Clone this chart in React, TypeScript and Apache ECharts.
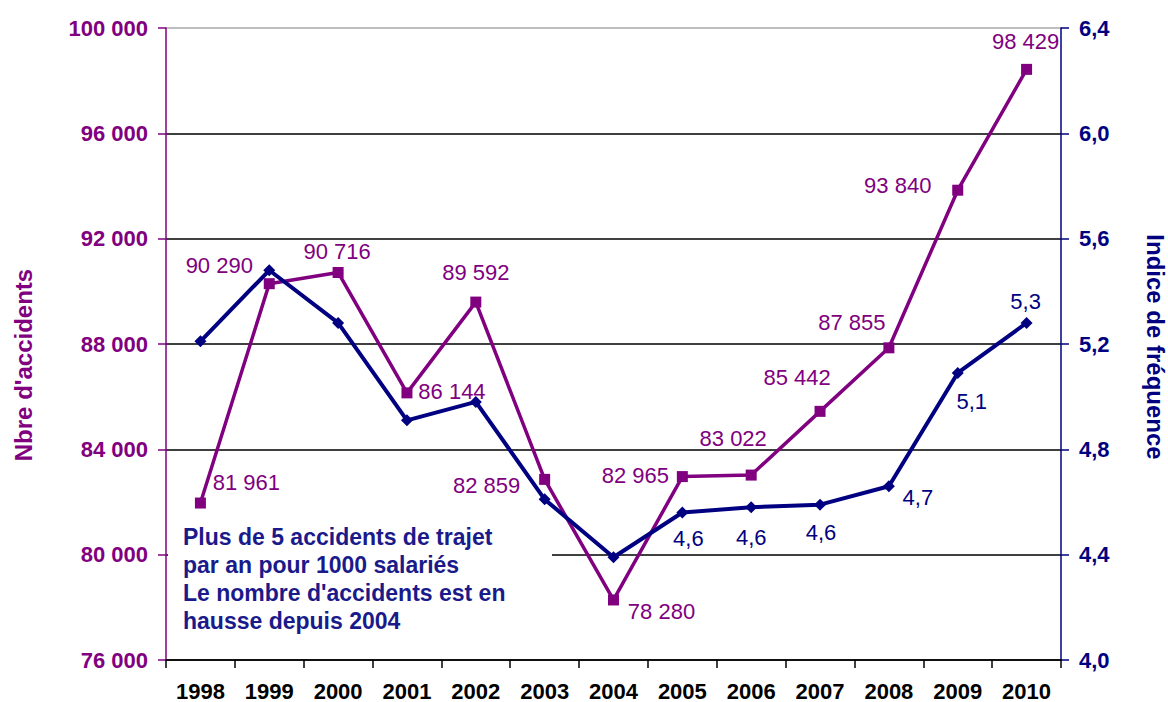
import React, { useEffect, useRef } from "react";
import * as echarts from "echarts";

const years = ["1998", "1999", "2000", "2001", "2002", "2003", "2004", "2005", "2006", "2007", "2008", "2009", "2010"];
const accidents = [81961, 90290, 90716, 86144, 89592, 82859, 78280, 82965, 83022, 85442, 87855, 93840, 98429];
const frequency = [5.21, 5.48, 5.28, 4.91, 4.98, 4.61, 4.39, 4.56, 4.58, 4.59, 4.66, 5.09, 5.28];
const frequencyLabelShown = [false, false, false, false, false, false, false, true, true, true, true, true, true];
const leftAxisName = "Nbre d'accidents";
const rightAxisName = "Indice de fréquence";
const noteLines = [
  "Plus de 5 accidents de trajet",
  "par an pour 1000 salariés",
  "Le nombre d'accidents est en",
  "hausse depuis 2004",
];

// label placement (style)
const accidentLabelOffsets: [number, number][] = [
  [46, -21], [-50, -18], [-1, -21], [45, -1], [0, -30], [-58, 6], [48, 12],
  [-47, -1], [-18, -37], [-23, -34], [-37, -25], [-60, -5], [-1, -28],
];
const frequencyLabelOffsets: [number, number][] = [
  [0, 0], [0, 0], [0, 0], [0, 0], [0, 0], [0, 0], [0, 0],
  [6, 26], [0, 30], [1, 28], [29, 11], [14, 29], [-1, -21],
];

const PURPLE = "#800080";
const NAVY = "#000080";
const FONT = "'Liberation Sans', Arial, sans-serif";

const fmtThousands = (v: number) => String(Math.round(v)).replace(/\B(?=(\d{3})+(?!\d))/g, " ");
const fmtDec = (v: number) => v.toFixed(1).replace(".", ",");

export default function App() {
  const ref = useRef<HTMLDivElement>(null);
  useEffect(() => {
    if (!ref.current) return;
    const chart = echarts.init(ref.current, undefined, { renderer: "svg" });
    const option: any = {
      animation: false,
      backgroundColor: "#ffffff",
      textStyle: { fontFamily: FONT },
      grid: { left: 166, right: 107, top: 28, bottom: 40, containLabel: false },
      xAxis: {
        type: "category",
        data: years,
        boundaryGap: true,
        axisLine: { lineStyle: { color: "#000", width: 1.5 } },
        axisTick: { show: true, alignWithLabel: false, length: 8, lineStyle: { color: "#000", width: 1.5 } },
        axisLabel: { color: "#000", fontWeight: "bold", fontSize: 22, margin: 20, fontFamily: FONT },
        splitLine: { show: false },
      },
      yAxis: [
        {
          type: "value",
          min: 76000,
          max: 100000,
          interval: 4000,
          position: "left",
          axisLine: { show: true, lineStyle: { color: PURPLE, width: 1.5 } },
          axisTick: { show: true, length: 8, lineStyle: { color: PURPLE, width: 1.5 } },
          axisLabel: { color: PURPLE, fontWeight: "bold", fontSize: 22, margin: 18, formatter: fmtThousands, fontFamily: FONT },
          splitLine: {
            show: true,
            lineStyle: { color: ["#000", "#000", "#000", "#000", "#000", "#000", "#a8a8a8"], width: 1.5 },
          },
        },
        {
          type: "value",
          min: 4.0,
          max: 6.4,
          interval: 0.4,
          position: "right",
          axisLine: { show: true, lineStyle: { color: NAVY, width: 1.5 } },
          axisTick: { show: true, length: 8, lineStyle: { color: NAVY, width: 1.5 } },
          axisLabel: { color: NAVY, fontWeight: "bold", fontSize: 22, margin: 18, formatter: fmtDec, fontFamily: FONT },
          splitLine: { show: false },
        },
      ],
      graphic: [
        {
          type: "rect",
          z: 1,
          shape: { x: 168, y: 522, width: 384, height: 115 },
          style: { fill: "#ffffff" },
        },
        {
          type: "text",
          z: 1,
          x: 183,
          y: 523,
          style: {
            text: noteLines.join("\n"),
            fill: "#1a1a8a",
            font: `bold 23px ${FONT}`,
            lineHeight: 28,
            align: "left",
            verticalAlign: "top",
          },
        },
        {
          type: "text",
          x: 23,
          y: 365,
          rotation: Math.PI / 2,
          style: {
            text: leftAxisName,
            fill: PURPLE,
            font: `bold 24px ${FONT}`,
            align: "center",
            verticalAlign: "middle",
          },
        },
        {
          type: "text",
          x: 1155,
          y: 347,
          rotation: -Math.PI / 2,
          style: {
            text: rightAxisName,
            fill: NAVY,
            font: `bold 24px ${FONT}`,
            align: "center",
            verticalAlign: "middle",
          },
        },
      ],
      series: [
        {
          name: leftAxisName,
          type: "line",
          yAxisIndex: 0,
          z: 3,
          symbol: "rect",
          symbolSize: 11,
          lineStyle: { color: PURPLE, width: 3.5 },
          itemStyle: { color: PURPLE },
          data: accidents.map((v, i) => ({
            value: v,
            label: {
              show: true,
              position: "inside",
              offset: accidentLabelOffsets[i],
              formatter: () => fmtThousands(v),
              color: PURPLE,
              fontSize: 22,
              fontFamily: FONT,
            },
          })),
        },
        {
          name: rightAxisName,
          type: "line",
          yAxisIndex: 1,
          z: 4,
          symbol: "diamond",
          symbolSize: 12,
          lineStyle: { color: NAVY, width: 4 },
          itemStyle: { color: NAVY },
          data: frequency.map((v, i) => ({
            value: v,
            label: {
              show: frequencyLabelShown[i],
              position: "inside",
              offset: frequencyLabelOffsets[i],
              formatter: () => fmtDec(v),
              color: NAVY,
              fontSize: 22,
              fontFamily: FONT,
            },
          })),
        },
      ],
    };
    chart.setOption(option);
    return () => chart.dispose();
  }, []);
  return <div ref={ref} style={{ position: "absolute", left: 0, top: 0, width: 1168, height: 702 }} />;
}
